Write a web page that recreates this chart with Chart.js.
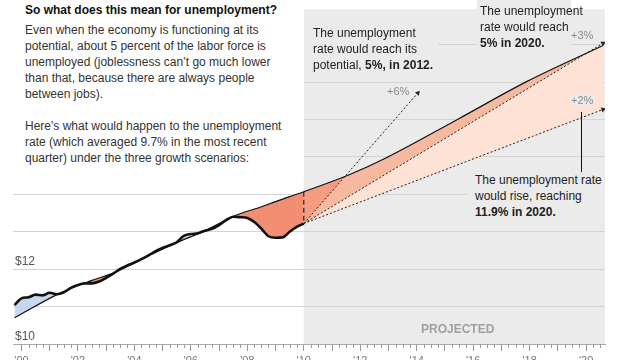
<!DOCTYPE html>
<html>
<head>
<meta charset="utf-8">
<script src="https://cdn.jsdelivr.net/npm/chart.js@4"></script>
<style>
  html, body { margin: 0; padding: 0; background: #fff; }
  #wrap { position: relative; width: 621px; height: 360px; overflow: hidden; font-family: "Liberation Sans", Arial, sans-serif; }
  canvas { position: absolute; left: 0; top: 0; }
  .box { position: absolute; }
  .txt { position: absolute; font-size: 12px; line-height: 16px; color: #222; white-space: nowrap; }
  .lbl { position: absolute; font-size: 11px; line-height: 12px; color: #8a8a8a; white-space: nowrap; background: #ebebeb; }
</style>
</head>
<body>
<div id="wrap">
  <canvas id="c" width="621" height="360"></canvas>
  <div class="box" style="left:0;top:0;width:304px;height:172px;background:#fff;"></div>
  <div class="txt" style="left:25px;top:2px;font-weight:bold;color:#111;">So what does this mean for unemployment?</div>
  <div class="txt" style="left:25px;top:22px;color:#333;">Even when the economy is functioning at its<br>potential, about 5 percent of the labor force is<br>unemployed (joblessness can’t go much lower<br>than that, because there are always people<br>between jobs).<br><br>Here's what would happen to the unemployment<br>rate (which averaged 9.7% in the most recent<br>quarter) under the three growth scenarios:</div>

  <div class="box" style="left:305px;top:20px;width:133px;height:58px;background:#ebebeb;"></div>
  <div class="txt" style="left:313px;top:25px;">The unemployment<br>rate would reach its<br>potential, <b>5%, in 2012.</b></div>

  <div class="box" style="left:477px;top:0px;width:94px;height:50px;background:#ebebeb;"></div>
  <div class="txt" style="left:480px;top:3px;">The unemployment<br>rate would reach<br><b>5% in 2020.</b></div>

  <div class="box" style="left:467px;top:172px;width:138px;height:50px;background:#ebebeb;"></div>
  <div class="txt" style="left:475px;top:172px;">The unemployment rate<br>would rise, reaching<br><b>11.9% in 2020.</b></div>

  <div class="lbl" style="left:387px;top:85px;">+6%</div>
  <div class="lbl" style="left:571px;top:29px;">+3%</div>
  <div class="lbl" style="left:571px;top:94px;">+2%</div>
  <div class="box" style="left:581px;top:112px;width:1.3px;height:60px;background:#111;"></div>

  <div class="txt" style="left:421px;top:321px;font-weight:bold;color:#a0a0a0;font-size:12px;">PROJECTED</div>
</div>
<script>
// ---- data (GDP, trillions of dollars) ----
const actualYears = [1999.75, 2000, 2000.25, 2000.5, 2000.75, 2001, 2001.25, 2001.5, 2001.75,
  2002, 2002.25, 2002.5, 2002.75, 2003, 2003.25, 2003.5, 2003.75, 2004, 2004.25, 2004.5, 2004.75,
  2005, 2005.25, 2005.5, 2005.75, 2006, 2006.25, 2006.5, 2006.75, 2007, 2007.25, 2007.5, 2007.75,
  2008, 2008.25, 2008.5, 2008.75, 2009, 2009.25, 2009.5, 2009.75, 2010];
const actualGDP = [11.04, 11.22, 11.25, 11.32, 11.30, 11.37, 11.33, 11.38, 11.50,
  11.58, 11.62, 11.62, 11.67, 11.77, 11.88, 12.01, 12.10, 12.18, 12.27, 12.37, 12.48,
  12.57, 12.64, 12.72, 12.89, 12.94, 12.96, 13.03, 13.08, 13.18, 13.31, 13.40, 13.39,
  13.37, 13.26, 13.08, 12.88, 12.84, 12.85, 13.00, 13.13, 13.22];

const potentialYears = [1999.75, 2001.42, 2002.5, 2003.3, 2004.5, 2005.5, 2006.5, 2007.5, 2008.5,
  2009.5, 2010, 2011.63, 2012.98, 2015.46, 2017.91, 2020.6];
const potentialGDP = [10.70, 11.38, 11.70, 11.91, 12.36, 12.71, 13.03, 13.41, 13.67,
  13.94, 14.07, 14.53, 15.00, 16.01, 17.02, 17.98];

const projStartYear = 2010;
const growth6Years = [2010, 2014.04];
const growth6GDP = [13.22, 16.71];
const growth3Years = [2010, 2020.6];
const growth3GDP = [13.22, 18.04];
const growth2Years = [2010, 2020.6];
const growth2GDP = [13.22, 16.27];
const gapYears = [2010, 2010];
const gapGDP = [14.07, 13.22];

const yearTicks = [2000, 2001, 2002, 2003, 2004, 2005, 2006, 2007, 2008, 2009, 2010,
  2011, 2012, 2013, 2014, 2015, 2016, 2017, 2018, 2019, 2020];
const yGrid = [10, 11, 12, 13, 14, 15, 16, 17, 18];
const yLabeled = [10, 12];

const pts = (xs, ys) => xs.map((x, i) => ({ x: x, y: ys[i] }));

const BLUE = '#c5d8ec', RED = '#f28f72', TRI = '#f39c80', MED = '#f7b8a0', LIGHT = '#fde2d5', GRAY = '#ebebeb';

function arrowRot(ctx) {
  const c = ctx.chart;
  const d = c.data.datasets[ctx.datasetIndex].data;
  const xs = c.scales.x, ys = c.scales.y;
  if (!xs || !ys) return 0;
  const a = d[0], b = d[d.length - 1];
  const dx = xs.getPixelForValue(b.x) - xs.getPixelForValue(a.x);
  const dy = ys.getPixelForValue(b.y) - ys.getPixelForValue(a.y);
  return Math.atan2(dy, dx) * 180 / Math.PI + 90;
}
const arrowRadius = ctx => ctx.dataIndex === ctx.dataset.data.length - 1 ? 3 : 0;

const bgPlugin = {
  id: 'bg',
  beforeDraw(chart) {
    const { ctx, chartArea, scales } = chart;
    ctx.save();
    ctx.fillStyle = '#fff';
    ctx.fillRect(0, 0, chart.width, chart.height);
    const x0 = scales.x.getPixelForValue(projStartYear);
    ctx.fillStyle = GRAY;
    ctx.fillRect(x0, chartArea.top, chartArea.right - x0, chartArea.bottom - chartArea.top);
    ctx.restore();
  }
};
const quarterTicks = {
  id: 'qticks',
  afterDraw(chart) {
    const { ctx, chartArea, scales } = chart;
    ctx.save();
    ctx.strokeStyle = '#9a9a9a';
    ctx.lineWidth = 1;
    for (let y = 2000; y <= 2020.5; y += 0.25) {
      if (Number.isInteger(y)) continue;
      const px = Math.round(scales.x.getPixelForValue(y)) + 0.5;
      ctx.beginPath();
      ctx.moveTo(px, chartArea.bottom);
      ctx.lineTo(px, chartArea.bottom + 4);
      ctx.stroke();
    }
    ctx.restore();
  }
};

new Chart(document.getElementById('c'), {
  type: 'line',
  data: {
    datasets: [
      { data: pts(actualYears, actualGDP), borderColor: '#111', borderWidth: 2.6, pointRadius: 0,
        cubicInterpolationMode: 'monotone', fill: { target: 1, above: BLUE, below: RED } },
      { data: pts(potentialYears, potentialGDP), borderColor: '#111', borderWidth: 1.2, pointRadius: 0,
        cubicInterpolationMode: 'monotone', fill: false },
      { data: pts(growth6Years, growth6GDP), borderColor: '#222', borderWidth: 1, borderDash: [2, 2],
        pointRadius: arrowRadius, pointStyle: 'triangle', rotation: arrowRot,
        pointBackgroundColor: '#222', pointBorderColor: '#222', pointBorderWidth: 0,
        fill: { target: 1, below: TRI, above: 'rgba(0,0,0,0)' } },
      { data: pts(growth3Years, growth3GDP), borderColor: '#222', borderWidth: 1, borderDash: [2, 2],
        pointRadius: arrowRadius, pointStyle: 'triangle', rotation: arrowRot,
        pointBackgroundColor: '#222', pointBorderColor: '#222', pointBorderWidth: 0,
        fill: { target: 1, below: MED, above: 'rgba(0,0,0,0)' } },
      { data: pts(growth2Years, growth2GDP), borderColor: '#222', borderWidth: 1, borderDash: [2, 2],
        pointRadius: arrowRadius, pointStyle: 'triangle', rotation: arrowRot,
        pointBackgroundColor: '#222', pointBorderColor: '#222', pointBorderWidth: 0,
        fill: { target: 3, below: LIGHT, above: LIGHT } },
      { data: pts(gapYears, gapGDP), borderColor: '#222', borderWidth: 1.2, borderDash: [5, 3],
        pointRadius: 0, fill: false }
    ]
  },
  options: {
    responsive: false,
    animation: false,
    devicePixelRatio: 1,
    layout: { padding: { left: 0, right: 16, top: 0, bottom: 0 } },
    plugins: {
      legend: { display: false },
      tooltip: { enabled: false },
      filler: { drawTime: 'beforeDatasetsDraw' }
    },
    scales: {
      x: {
        type: 'linear', min: 1999.7, max: 2020.67,
        afterBuildTicks: s => { s.ticks = yearTicks.map(v => ({ value: v })); },
        afterFit: s => { s.height = 16; },
        ticks: {
          autoSkip: false, maxRotation: 0, padding: 3, color: '#777',
          font: { family: 'Liberation Sans', size: 11 },
          callback: v => (v % 2 === 0 ? "'" + String(v).slice(2) : '')
        },
        grid: { drawOnChartArea: false, tickLength: 7, tickColor: '#9a9a9a' },
        border: { color: '#aaa' }
      },
      y: {
        type: 'linear', min: 10, max: 18.95,
        afterBuildTicks: s => { s.ticks = yGrid.map(v => ({ value: v })); },
        afterFit: s => { s.width = 13; },
        ticks: {
          mirror: true, padding: 2, labelOffset: -7, color: '#555',
          font: { family: 'Liberation Sans', size: 12 },
          callback: v => (yLabeled.includes(v) ? '$' + v : '')
        },
        grid: { color: '#d4d4d4', drawTicks: false },
        border: { display: false }
      }
    }
  },
  plugins: [bgPlugin, quarterTicks]
});
</script>
</body>
</html>
